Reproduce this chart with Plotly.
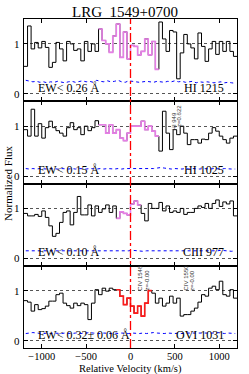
import plotly.graph_objects as go
from plotly.subplots import make_subplots

# ---------------- data ----------------
title_text = "LRG_1549+0700"
x_title = "Relative Velocity (km/s)"
y_title = "Normalized Flux"
ions = ["HI 1215", "HI 1025", "CIII 977", "OVI 1031"]
ew_labels = ["EW< 0.26 Å", "EW< 0.15 Å", "EW< 0.10 Å", "EW< 0.32± 0.06 Å"]
y_ticks = [0, 1]
x_ticks = [-1000, -500, 0, 500, 1000]

# bin centres (km/s), 40 km/s bins
vel = [-1180 + 40 * i for i in range(60)]
bin_half = 20

flux_hi1215 = [0.55, 1.36, 0.90, 1.03, 0.92, 1.05, 0.93, 0.53, 0.63, 1.03,
               0.90, 0.66, 1.05, 1.00, 0.87, 0.90, 0.66, 1.05, 0.85, 1.00,
               0.85, 1.30, 1.07, 1.00, 0.83, 1.16, 1.40, 0.73, 1.24, 0.70,
               0.97, 0.95, 0.78, 0.85, 1.10, 0.78, 1.05, 0.49, 1.44, 1.10,
               0.85, 1.27, 1.24, 0.30, 0.82, 1.19, 1.00, 0.92, 0.70, 1.22,
               0.95, 0.65, 0.90, 1.05, 0.79, 1.05, 0.85, 1.05, 0.85, 0.75]
flux_hi1025 = [0.93, 0.80, 1.34, 0.80, 1.05, 0.76, 0.97, 1.10, 0.97, 0.91,
               0.86, 0.80, 0.97, 1.07, 0.93, 0.97, 0.83, 1.00, 0.91, 0.97,
               1.11, 1.03, 1.03, 0.86, 1.03, 0.86, 0.93, 0.76, 0.71, 0.86,
               1.00, 1.00, 1.00, 1.10, 0.93, 1.00, 0.90, 0.80, 0.50, 1.30,
               0.86, 0.53, 0.93, 0.83, 1.00, 0.86, 0.63, 0.73, 0.73, 0.66,
               0.74, 0.73, 0.86, 0.97, 0.90, 0.80, 0.73, 0.66, 0.76, 0.80]
flux_ciii977 = [0.90, 0.85, 0.85, 0.88, 0.84, 0.95, 0.82, 0.65, 0.44, 0.50,
                0.72, 0.92, 0.95, 0.67, 0.92, 1.24, 0.87, 0.87, 1.07, 0.85,
                1.05, 0.92, 0.99, 1.07, 0.92, 1.05, 0.80, 0.93, 0.90, 0.87,
                1.09, 1.15, 1.07, 0.90, 0.75, 1.10, 1.00, 1.00, 1.12, 0.95,
                1.05, 0.92, 0.95, 0.92, 1.00, 0.88, 0.92, 0.92, 1.00, 1.05,
                1.02, 1.10, 1.00, 1.10, 1.17, 1.04, 1.13, 1.09, 1.15, 0.85]
flux_ovi1031 = [0.80, 0.77, 0.59, 0.72, 0.62, 0.64, 0.69, 0.79, 0.79, 0.92,
                0.95, 0.75, 0.70, 0.65, 0.75, 0.70, 0.75, 0.72, 0.42, 0.75,
                1.02, 0.92, 1.05, 0.99, 1.05, 1.02, 1.02, 0.89, 0.72, 0.85,
                0.69, 0.55, 0.69, 0.49, 0.75, 1.00, 0.95, 0.75, 0.85, 0.69,
                0.75, 0.89, 0.75, 0.85, 0.49, 0.52, 0.52, 0.59, 0.65, 0.77,
                0.92, 0.89, 1.05, 1.09, 1.02, 1.19, 0.92, 0.89, 1.02, 0.85]

err_hi1215 = [0.27, 0.25, 0.24, 0.25, 0.23, 0.24, 0.22, 0.24, 0.23, 0.25,
              0.24, 0.22, 0.24, 0.25, 0.23, 0.24, 0.26, 0.24, 0.25, 0.23,
              0.27, 0.25, 0.24, 0.26, 0.24, 0.25, 0.27, 0.24, 0.23, 0.26,
              0.25, 0.24, 0.23, 0.24, 0.25, 0.24, 0.23, 0.25, 0.24, 0.23,
              0.25, 0.24, 0.26, 0.24, 0.25, 0.23, 0.24, 0.25, 0.22, 0.24,
              0.23, 0.24, 0.23, 0.22, 0.23, 0.24, 0.22, 0.23, 0.22, 0.21]
err_hi1025 = [0.15, 0.14, 0.15, 0.14, 0.15, 0.14, 0.14, 0.15, 0.14, 0.14,
              0.15, 0.14, 0.14, 0.15, 0.14, 0.15, 0.14, 0.14, 0.15, 0.14,
              0.14, 0.15, 0.14, 0.15, 0.14, 0.14, 0.15, 0.14, 0.15, 0.15,
              0.14, 0.15, 0.14, 0.15, 0.15, 0.14, 0.15, 0.16, 0.17, 0.16,
              0.15, 0.14, 0.15, 0.14, 0.14, 0.15, 0.14, 0.15, 0.14, 0.14,
              0.15, 0.14, 0.14, 0.15, 0.14, 0.14, 0.15, 0.14, 0.14, 0.14]
err_ciii977 = [0.15, 0.15, 0.14, 0.15, 0.15, 0.14, 0.15, 0.15, 0.14, 0.15,
               0.15, 0.15, 0.14, 0.15, 0.15, 0.15, 0.14, 0.15, 0.15, 0.14,
               0.15, 0.15, 0.15, 0.14, 0.15, 0.15, 0.15, 0.14, 0.15, 0.15,
               0.16, 0.15, 0.15, 0.14, 0.15, 0.15, 0.14, 0.15, 0.15, 0.15,
               0.14, 0.15, 0.15, 0.15, 0.14, 0.15, 0.15, 0.14, 0.15, 0.15,
               0.15, 0.14, 0.15, 0.15, 0.15, 0.16, 0.15, 0.15, 0.14, 0.15]
err_ovi1031 = [0.14, 0.15, 0.16, 0.15, 0.14, 0.14, 0.15, 0.14, 0.15, 0.14,
               0.14, 0.15, 0.14, 0.14, 0.15, 0.14, 0.14, 0.15, 0.16, 0.15,
               0.14, 0.14, 0.15, 0.14, 0.14, 0.15, 0.14, 0.15, 0.14, 0.14,
               0.15, 0.14, 0.14, 0.15, 0.14, 0.15, 0.16, 0.15, 0.14, 0.14,
               0.15, 0.14, 0.14, 0.15, 0.14, 0.15, 0.15, 0.14, 0.14, 0.15,
               0.14, 0.15, 0.14, 0.15, 0.16, 0.15, 0.14, 0.15, 0.14, 0.14]

flux_all = [flux_hi1215, flux_hi1025, flux_ciii977, flux_ovi1031]
err_all = [err_hi1215, err_hi1025, err_ciii977, err_ovi1031]

# integration windows (km/s) and their colours
window_lo = [-360, -360, -160, -160]
window_hi = [320, 320, 120, 240]
window_color = ["#e67ee6", "#e67ee6", "#e67ee6", "#ff1a1a"]

# rotated line-ID labels: (panel, velocity, bottom flux, text)
line_ids = [
    (2, 493, 0.90, "HI 949"),
    (2, 544, 0.96, "z=0.622"),
    (4, 108, 0.98, "CIV 1548"),
    (4, 190, 0.98, "z=-0.00"),
    (4, 623, 0.98, "CIV 1550"),
    (4, 691, 0.98, "z=-0.00"),
]

# ---------------- figure ----------------
SERIF = "Liberation Serif"
fig = make_subplots(rows=4, cols=1, shared_xaxes=True, vertical_spacing=0)


def step_xy(xs, ys):
    ex = [x - bin_half for x in xs] + [xs[-1] + bin_half]
    ey = list(ys) + [ys[-1]]
    return ex, ey


for k in range(4):
    r = k + 1
    fl = flux_all[k]
    er = err_all[k]
    fig.add_trace(go.Scatter(x=vel, y=er, mode="lines",
                             line=dict(color="blue", width=1, dash="dot"),
                             showlegend=False), row=r, col=1)
    sx, sy = step_xy(vel, fl)
    fig.add_trace(go.Scatter(x=sx, y=sy, mode="lines", line_shape="hv",
                             line=dict(color="black", width=1),
                             showlegend=False), row=r, col=1)
    wv = [v for v in vel if window_lo[k] <= v <= window_hi[k]]
    wf = [f for v, f in zip(vel, fl) if window_lo[k] <= v <= window_hi[k]]
    wx, wy = step_xy(wv, wf)
    fig.add_trace(go.Scatter(x=wx, y=wy, mode="lines", line_shape="hv",
                             line=dict(color=window_color[k], width=1.6),
                             showlegend=False), row=r, col=1)
    yref = "y" if r == 1 else f"y{r}"
    fig.add_annotation(x=-1065, y=0.12, xref="x", yref=yref, text=ew_labels[k],
                       showarrow=False, xanchor="left", yanchor="middle",
                       font=dict(family=SERIF, size=12, color="black"))
    fig.add_annotation(x=1078, y=0.12, xref="x", yref=yref, text=ions[k],
                       showarrow=False, xanchor="right", yanchor="middle",
                       font=dict(family=SERIF, size=12, color="black"))
    # y tick labels (placed just left of the axis)
    for tv in y_ticks:
        fig.add_annotation(x=-0.012, y=tv, xref="paper", yref=yref, text=str(tv),
                           showarrow=False, xanchor="right", yanchor="middle",
                           borderpad=0,
                           font=dict(family=SERIF, size=11, color="black"))

for (p, v, f, t) in line_ids:
    yref = "y" if p == 1 else f"y{p}"
    fig.add_annotation(x=v, y=f, xref="x", yref=yref, text=t, textangle=-90,
                       showarrow=False, xanchor="center", yanchor="bottom",
                       borderpad=0,
                       font=dict(family="Liberation Sans", size=6, color="#333333"))

fig.add_shape(type="line", x0=0, x1=0, xref="x", y0=0, y1=1, yref="paper",
              line=dict(color="red", width=1.3, dash="dashdot"))

fig.update_xaxes(range=[-1200, 1200], tickvals=x_ticks,
                 ticks="inside", ticklen=4, tickcolor="black", automargin=False,
                 ticklabelstandoff=-2,
                 showline=True, linecolor="black", linewidth=1, mirror="ticks",
                 showgrid=False, zeroline=False,
                 tickfont=dict(family=SERIF, size=10.5, color="black"))
fig.update_yaxes(range=[-0.15, 1.5], tickvals=y_ticks, showticklabels=False,
                 ticks="inside", ticklen=4, tickcolor="black", automargin=False,
                 showline=True, linecolor="black", linewidth=1, mirror="ticks",
                 showgrid=True, gridcolor="#555555", griddash="dot", gridwidth=0.8,
                 zeroline=False)

fig.add_annotation(x=0.5, y=-0.063, xref="paper", yref="paper",
                   text=x_title, showarrow=False, borderpad=0,
                   xanchor="center", yanchor="middle",
                   font=dict(family=SERIF, size=10.5, color="black"))
fig.add_annotation(x=-0.078, y=0.5, xref="paper", yref="paper",
                   text=y_title, textangle=-90, showarrow=False,
                   xanchor="center", yanchor="middle",
                   font=dict(family=SERIF, size=11, color="black"))
fig.add_annotation(x=0.474, y=1.022, xref="paper", yref="paper",
                   text=title_text, showarrow=False,
                   xanchor="center", yanchor="middle",
                   font=dict(family=SERIF, size=15, color="black"))

fig.update_layout(width=249, height=374,
                  margin=dict(l=24, r=12, t=19, b=26),
                  paper_bgcolor="white", plot_bgcolor="white",
                  showlegend=False)

fig.write_html("out.html",
               config={"displayModeBar": False},
               post_script="document.body.style.margin='0';document.body.style.padding='0';")
